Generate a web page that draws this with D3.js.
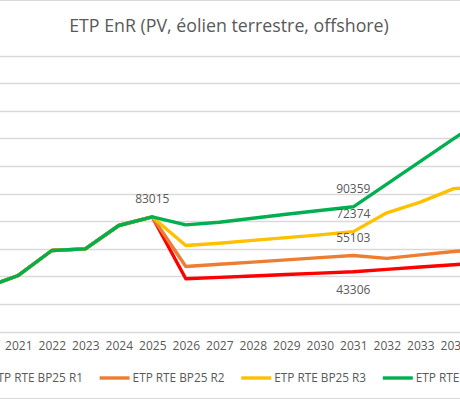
<!DOCTYPE html>
<html>
<head>
<meta charset="utf-8">
<script src="https://cdn.jsdelivr.net/npm/d3@7"></script>
<style>
    body { margin: 0; background: #fff; }
    text { font-family: "Open Sans", sans-serif; fill: #595959; }
</style>
</head>
<body>
<script>
// data (ETP = full-time jobs)
var years = [2020, 2021, 2022, 2023, 2024, 2025, 2026, 2027, 2028, 2029, 2030, 2031, 2032, 2033, 2034, 2035];
var seriesNames = ["ETP RTE BP25 R1", "ETP RTE BP25 R2", "ETP RTE BP25 R3", "ETP RTE BP25 R4"];
var colors = ["#ff0000", "#ed7d31", "#ffc000", "#00b050"];
var r1Values = [31700, 40600, 58700, 59900, 76800, 83015, 38200, 39200, 40200, 41300, 42300, 43306, 45000, 46700, 48400, 50100];
var r2Values = [31700, 40600, 58700, 59900, 76800, 83015, 47100, 48700, 50300, 51900, 53500, 55103, 53000, 55500, 58000, 60000];
var r3Values = [31700, 40600, 58700, 59900, 76800, 83015, 62300, 64000, 66000, 68000, 70000, 72374, 86000, 93800, 103500, 105000];
var r4Values = [31700, 40600, 58700, 59900, 76800, 83015, 77300, 79200, 82100, 85000, 87700, 90359, 106800, 123300, 139700, 156000];
var yTicks = [0, 20000, 40000, 60000, 80000, 100000, 120000, 140000, 160000, 180000, 200000];
// years whose tick label falls inside the crop
var shownYears = [2021, 2022, 2023, 2024, 2025, 2026, 2027, 2028, 2029, 2030, 2031, 2032, 2033, 2034];
// point labels: [series index, year, above/below]
var pointLabels = [[3, 2025, -1], [3, 2031, -1], [2, 2031, -1], [1, 2031, -1], [0, 2031, 1]];

var width = 460, height = 400;
var allValues = [r1Values, r2Values, r3Values, r4Values];

var svg = d3.select("body").append("svg")
    .attr("width", width)
    .attr("height", height);

// the picture is a crop of a wider excel chart, so the plot runs past both edges
var x = d3.scalePoint().domain(years).range([-15.2, 487.3]);
var y = d3.scaleLinear().domain([0, 200000]).range([331.5, 55.5]);

// outer border (top and bottom visible)
svg.append("line").attr("x1", 0).attr("x2", width).attr("y1", 0.5).attr("y2", 0.5)
    .attr("stroke", "#d9d9d9");
svg.append("line").attr("x1", 0).attr("x2", width).attr("y1", 398.5).attr("y2", 398.5)
    .attr("stroke", "#d9d9d9");

svg.append("text")
    .attr("x", 229)
    .attr("y", 32)
    .attr("text-anchor", "middle")
    .style("font-size", "17.8px")
    .text("ETP EnR (PV, éolien terrestre, offshore)");

// gridlines
svg.append("g")
    .selectAll("line")
    .data(yTicks)
    .enter()
    .append("line")
    .attr("x1", 0)
    .attr("x2", width)
    .attr("y1", function(d) { return Math.round(y(d)) + 0.5; })
    .attr("y2", function(d) { return Math.round(y(d)) + 0.5; })
    .attr("stroke", "#d9d9d9")
    .attr("stroke-width", 1.3);

// x axis
var xAxis = svg.append("g")
    .attr("transform", "translate(0," + y(0) + ")")
    .call(d3.axisBottom(x).tickValues(shownYears).tickSize(0).tickPadding(10));
xAxis.select(".domain").remove();
xAxis.selectAll("text")
    .style("font-size", "12px")
    .attr("fill", "#595959");

// lines
var line = d3.line()
    .x(function(d, i) { return x(years[i]); })
    .y(function(d) { return y(d); });

svg.append("g")
    .selectAll("path")
    .data(allValues)
    .enter()
    .append("path")
    .attr("d", line)
    .attr("fill", "none")
    .attr("stroke", function(d, i) { return colors[i]; })
    .attr("stroke-width", 3.4)
    .attr("stroke-linejoin", "round")
    .attr("stroke-linecap", "round");

// value labels
svg.append("g")
    .selectAll("text")
    .data(pointLabels)
    .enter()
    .append("text")
    .attr("x", function(d) { return x(d[1]); })
    .attr("y", function(d) {
        var v = allValues[d[0]][years.indexOf(d[1])];
        return y(v) + d[2] * 18;
    })
    .attr("dy", "0.35em")
    .attr("text-anchor", "middle")
    .style("font-size", "12px")
    .text(function(d) { return d3.format("d")(allValues[d[0]][years.indexOf(d[1])]); });

// legend
var legendStep = 141.6;
var legend = svg.append("g")
    .selectAll("g")
    .data(seriesNames)
    .enter()
    .append("g")
    .attr("transform", function(d, i) { return "translate(" + (-42 + i * legendStep) + ",378)"; });
legend.append("line")
    .attr("x1", 0).attr("x2", 30)
    .attr("stroke", function(d, i) { return colors[i]; })
    .attr("stroke-width", 3.4);
legend.append("text")
    .attr("x", 33)
    .attr("dy", "0.35em")
    .style("font-size", "11.8px")
    .text(function(d) { return d; });
</script>
</body>
</html>
